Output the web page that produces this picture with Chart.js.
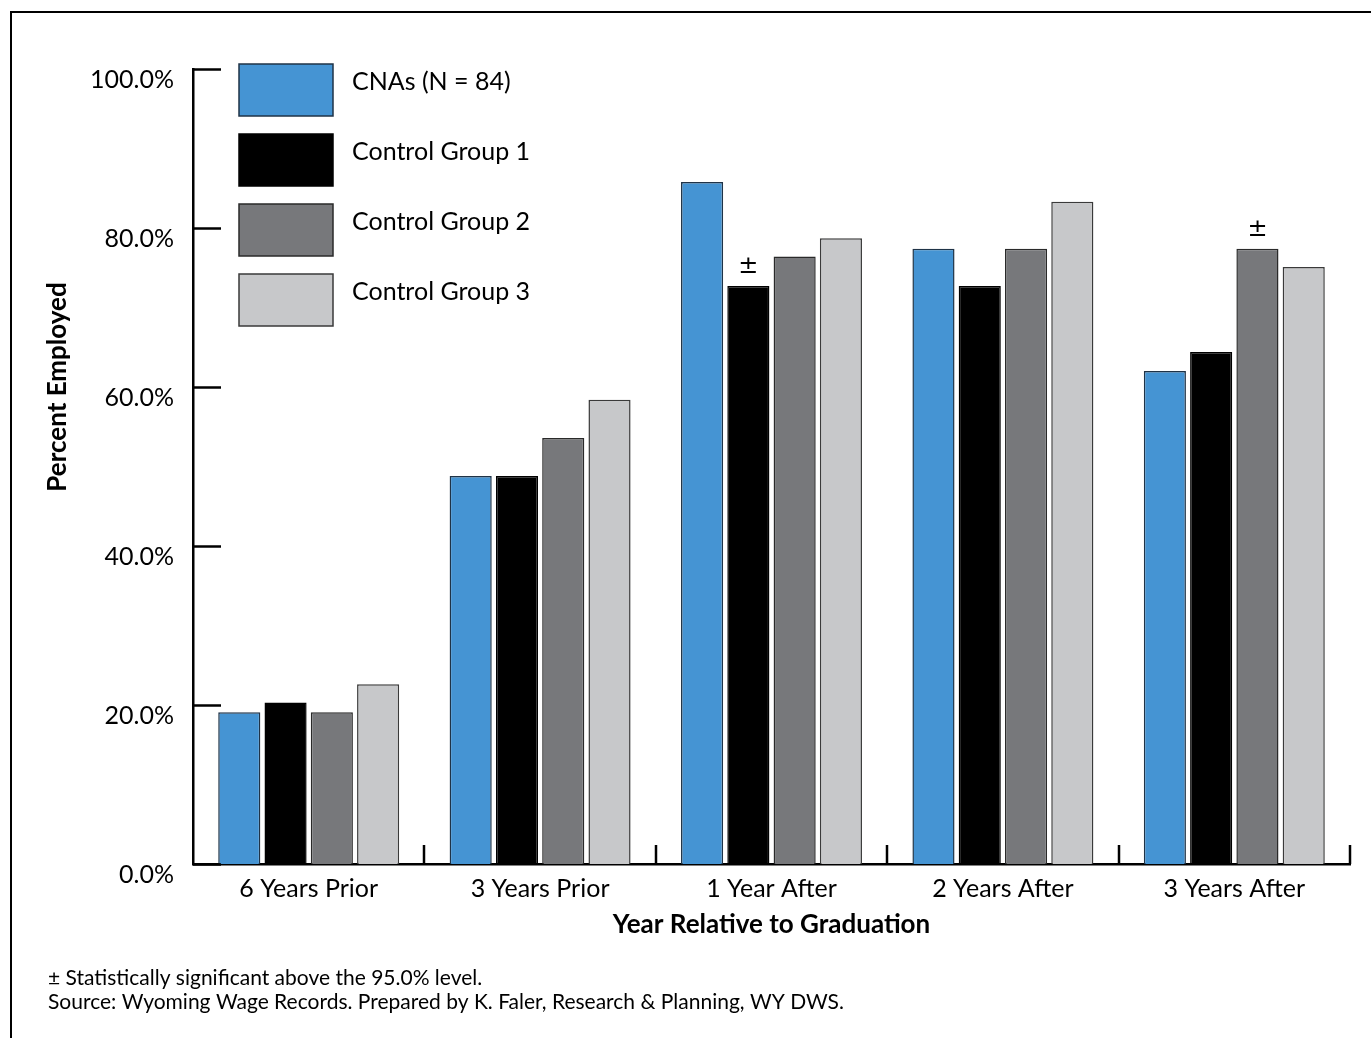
<!DOCTYPE html>
<html>
<head>
<meta charset="utf-8">
<title>Percent Employed by Year Relative to Graduation</title>
<script src="https://cdn.jsdelivr.net/npm/chart.js@4.4.1/dist/chart.umd.min.js"></script>
<style>
  html, body { margin: 0; padding: 0; background: #fff; overflow: hidden; }
  #wrap { position: relative; width: 1371px; height: 1038px; }
  #frame { position: absolute; left: 10px; top: 11px; width: 1400px; height: 1100px;
           border: 2.5px solid #000; box-sizing: border-box; pointer-events: none; }
  canvas { position: absolute; left: 0; top: 0; }
</style>
</head>
<body>
<div id="wrap">
  <canvas id="chart" width="1371" height="1038"></canvas>
  <div id="frame"></div>
</div>
<script>
// Categories and series (percent employed)
const categories = ['6 Years Prior', '3 Years Prior', '1 Year After', '2 Years After', '3 Years After'];
const seriesNames = ['CNAs (N = 84)', 'Control Group 1', 'Control Group 2', 'Control Group 3'];
const cnas   = [19.1, 48.8, 85.8, 77.4, 62.0];
const group1 = [20.3, 48.8, 72.7, 72.7, 64.4];
const group2 = [19.1, 53.6, 76.4, 77.4, 77.4];
const group3 = [22.6, 58.4, 78.7, 83.3, 75.1];
// Significance markers (±) per series, per category
const sigGroup1 = [false, false, true, false, false];
const sigGroup2 = [false, false, false, false, true];
const yTicks = [0, 20, 40, 60, 80, 100];
const xTitle = 'Year Relative to Graduation';
const yTitle = 'Percent Employed';
const footnotes = [
  '\u00B1 Statistically significant above the 95.0% level.',
  'Source: Wyoming Wage Records. Prepared by K. Faler, Research & Planning, WY DWS.'
];

const FONT = 'Lato, "Open Sans", sans-serif';
const fills = ['#4594d3', '#000000', '#77787b', '#c7c8ca'];
const edges = ['#1f3347', '#000000', '#2a2a2a', '#3a3a3a'];
const seriesData = [cnas, group1, group2, group3];
const sigFlags = [null, sigGroup1, sigGroup2, null];

const datasets = seriesData.map((d, i) => ({
  label: seriesNames[i],
  data: d,
  backgroundColor: fills[i],
  borderColor: edges[i],
  borderWidth: 1.5,
  borderSkipped: 'bottom',
  categoryPercentage: 0.8,
  barPercentage: 0.91,
  sig: sigFlags[i]
}));

// Axis ticks drawn inward, category separators, legend, titles and notes
const decorations = {
  id: 'decorations',
  afterDatasetsDraw(chart) {
    const { ctx, chartArea: ca, scales: { x, y } } = chart;
    ctx.save();
    ctx.strokeStyle = '#000';
    ctx.lineWidth = 2.5;
    ctx.lineCap = 'butt';
    // y tick marks pointing into the plot
    yTicks.forEach(v => {
      const py = Math.round(y.getPixelForValue(v)) + 0.5;
      ctx.beginPath();
      ctx.moveTo(ca.left, py);
      ctx.lineTo(ca.left + 28, py);
      ctx.stroke();
    });
    // category separators rising from the x axis
    for (let i = 1; i <= categories.length; i++) {
      const px = Math.round(x.getPixelForValue(i - 0.5));
      ctx.beginPath();
      ctx.moveTo(px, ca.bottom);
      ctx.lineTo(px, ca.bottom - 19);
      ctx.stroke();
    }
    // significance markers
    ctx.fillStyle = '#000';
    ctx.font = '24px "DejaVu Sans", sans-serif';
    ctx.textAlign = 'center';
    ctx.textBaseline = 'alphabetic';
    chart.data.datasets.forEach((ds, di) => {
      if (!ds.sig) return;
      const meta = chart.getDatasetMeta(di);
      ds.sig.forEach((s, i) => {
        if (!s) return;
        const bar = meta.data[i];
        ctx.fillText('\u00B1', bar.x, bar.y - 13);
      });
    });
    // legend
    const lx = ca.left + 46, lw = 94, lh = 52, step = 70;
    ctx.textAlign = 'left';
    ctx.textBaseline = 'middle';
    ctx.font = '25px ' + FONT;
    chart.data.datasets.forEach((ds, i) => {
      const top = ca.top - 5 + i * step;
      ctx.fillStyle = ds.backgroundColor;
      ctx.fillRect(lx, top, lw, lh);
      ctx.lineWidth = 1.5;
      ctx.strokeStyle = ds.borderColor;
      ctx.strokeRect(lx, top, lw, lh);
      ctx.fillStyle = '#000';
      ctx.fillText(ds.label, lx + lw + 19, top + 18);
    });
    // axis titles
    ctx.font = 'bold 26px ' + FONT;
    ctx.textAlign = 'center';
    ctx.fillText(xTitle, (ca.left + ca.right) / 2, ca.bottom + 61);
    ctx.save();
    ctx.translate(58, ca.top + (ca.bottom - ca.top) * 0.4);
    ctx.rotate(-Math.PI / 2);
    ctx.fillText(yTitle, 0, 0);
    ctx.restore();
    // notes
    ctx.font = '21px ' + FONT;
    ctx.textAlign = 'left';
    footnotes.forEach((t, i) => ctx.fillText(t, 48, 978 + i * 24));
    ctx.restore();
  }
};

new Chart(document.getElementById('chart'), {
  type: 'bar',
  data: { labels: categories, datasets },
  options: {
    responsive: false,
    animation: false,
    devicePixelRatio: 1,
    layout: { padding: { left: 0, top: 69, right: 21, bottom: 0 } },
    plugins: { legend: { display: false }, tooltip: { enabled: false } },
    scales: {
      x: {
        grid: { display: false, drawTicks: false },
        border: { display: true, color: '#000', width: 2.5 },
        ticks: { color: '#000', font: { family: FONT, size: 25 }, padding: 10, maxRotation: 0 },
        afterFit(scale) { scale.height = 174; }
      },
      y: {
        min: 0, max: 100,
        afterBuildTicks(scale) { scale.ticks = yTicks.map(v => ({ value: v })); },
        grid: { display: false, drawTicks: false },
        border: { display: true, color: '#000', width: 2.5 },
        ticks: {
          color: '#000', font: { family: FONT, size: 25 }, padding: 19, labelOffset: 11,
          callback: v => v.toFixed(1) + '%'
        },
        afterFit(scale) { scale.width = 193; }
      }
    }
  },
  plugins: [decorations]
});
</script>
</body>
</html>
